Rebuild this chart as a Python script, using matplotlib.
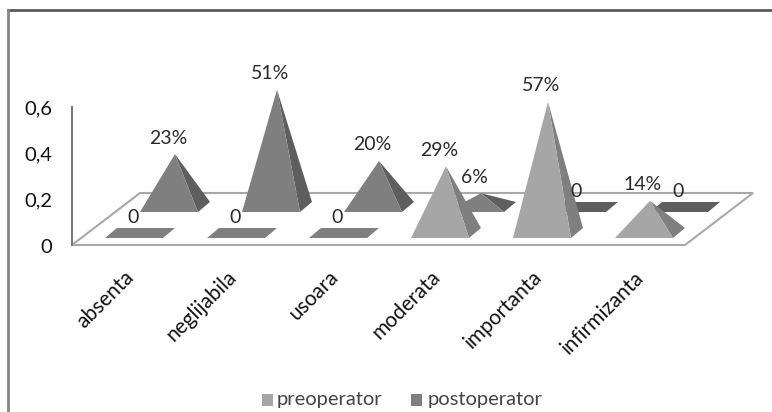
import matplotlib
matplotlib.use("Agg")
import matplotlib.pyplot as plt
from matplotlib.patches import Polygon, Rectangle

categories = ["absenta", "neglijabila", "usoara", "moderata", "importanta", "infirmizanta"]
preoperator = [0, 0, 0, 0.29, 0.57, 0.14]
postoperator = [0.23, 0.51, 0.20, 0.06, 0, 0]
pre_labels = ["0", "0", "0", "29%", "57%", "14%"]
post_labels = ["23%", "51%", "20%", "6%", "0", "0"]
y_ticks = [0, 0.2, 0.4, 0.6]
y_tick_labels = ["0", "0,2", "0,4", "0,6"]

plt.rcParams["font.family"] = ["Lato", "DejaVu Sans"]

# the oblique floor, all in figure pixels
Y_ZERO = 245
PX_PER_UNIT = 230
STEP = 102
BASE_W = 58
SKEW_X = 12
BASE_D = 10


def draw_pyramid(ax, x0, y_front, value, front, side, flat):
    """Pyramid standing on a skewed base, flat parallelogram when value is 0"""
    fl = (x0, y_front)
    fr = (x0 + BASE_W, y_front)
    br = (x0 + BASE_W + SKEW_X, y_front - BASE_D)
    bl = (x0 + SKEW_X, y_front - BASE_D)
    cx = x0 + (BASE_W + SKEW_X) / 2
    cy = y_front - BASE_D / 2
    tip = (cx, cy - value * PX_PER_UNIT)
    if value == 0:
        ax.add_patch(Polygon([fl, fr, br, bl], fc=flat, ec="none", zorder=3))
    else:
        ax.add_patch(Polygon([fr, br, tip], fc=side, ec="none", zorder=3))
        ax.add_patch(Polygon([fl, fr, tip], fc=front, ec="none", zorder=3))
    return tip


fig = plt.figure(figsize=(7.72, 4.12), dpi=100)
ax = fig.add_axes([0, 0, 1, 1])
ax.set_xlim(0, 772)
ax.set_ylim(412, 0)
ax.axis("off")

# outer frame, only top and left stay inside the image
ax.plot([8, 772], [10, 10], color="#5a5a5a", lw=2, zorder=0)
ax.plot([8, 8], [10, 412], color="#858585", lw=2, zorder=0)

# floor and value axis
floor = [(72, Y_ZERO), (685, Y_ZERO), (753, 193), (140, 193)]
ax.add_patch(Polygon(floor, fc="white", ec="#a8a8a8", lw=1.5, zorder=1))
ax.plot([72, 72], [Y_ZERO, Y_ZERO - 0.6 * PX_PER_UNIT], color="#7a7a7a", lw=1.5, zorder=2)

for t, lab in zip(y_ticks, y_tick_labels):
    ax.text(52, Y_ZERO + 2 - t * PX_PER_UNIT, lab, ha="right", va="center",
            fontsize=14.5, color="#111111")

# back row first so the front row covers it
for i, (v, lab) in enumerate(zip(postoperator, post_labels)):
    x0 = 140 + i * STEP
    tip = draw_pyramid(ax, x0, 212, v, "#7f7f7f", "#5e5e5e", "#5e5e5e")
    ax.text(tip[0] - 7, tip[1] - 16, lab, ha="center", va="center", fontsize=14,
            color="#2a2a2a", zorder=5)

for i, (v, lab) in enumerate(zip(preoperator, pre_labels)):
    x0 = 105 + i * STEP
    tip = draw_pyramid(ax, x0, 238, v, "#a6a6a6", "#7f7f7f", "#7f7f7f")
    ax.text(tip[0] - 7, tip[1] - 16, lab, ha="center", va="center", fontsize=14,
            color="#2a2a2a", zorder=5)

# slanted category labels
for i, name in enumerate(categories):
    ax.text(124 + i * STEP, 267, name, rotation=45, rotation_mode="anchor", ha="right", va="top",
            fontsize=15, color="#111111")

# legend
ax.add_patch(Rectangle((262, 394), 11, 12, fc="#a6a6a6", ec="none"))
ax.text(277, 400, "preoperator", ha="left", va="center", fontsize=14.5, color="#444444")
ax.add_patch(Rectangle((411, 394), 11, 12, fc="#7f7f7f", ec="none"))
ax.text(428, 400, "postoperator", ha="left", va="center", fontsize=14.5, color="#444444")

fig.savefig("out.png", dpi=100)
